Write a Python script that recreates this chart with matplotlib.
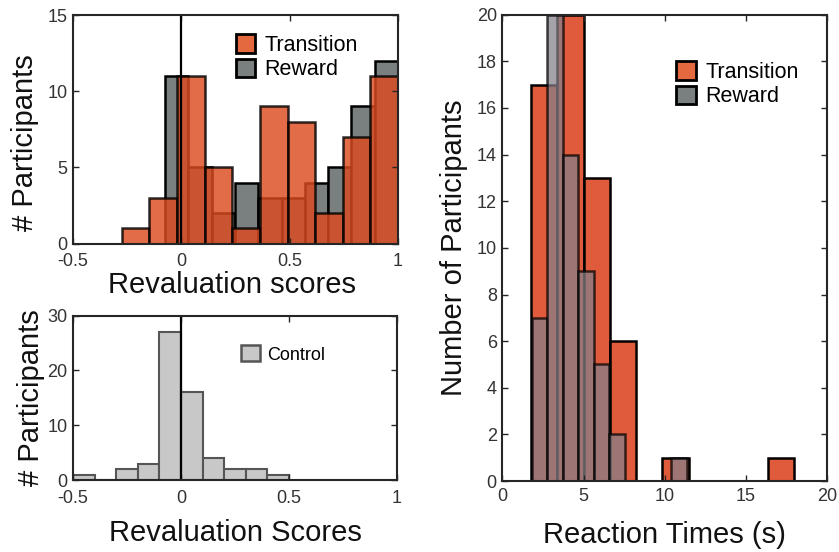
import numpy as np
import matplotlib
matplotlib.use("Agg")
import matplotlib.pyplot as plt
from matplotlib.patches import Patch

plt.rcParams['font.family'] = ['Liberation Sans', 'DejaVu Sans']

# revaluation scores, transition vs reward
trans_edges = np.linspace(-0.275, 1.0, 11)
trans_counts = [1, 3, 11, 5, 1, 9, 8, 2, 7, 11]
reward_edges = np.linspace(-0.075, 1.0, 11)
reward_counts = [11, 5, 2, 4, 3, 3, 4, 5, 9, 12]

# revaluation scores, control
control_edges = np.linspace(-0.5, 0.5, 11)
control_counts = [1, 0, 2, 3, 27, 16, 4, 2, 2, 1]

# reaction times (s)
rt_trans_edges = np.linspace(1.77, 17.94, 11)
rt_trans_counts = [17, 20, 13, 6, 0, 1, 0, 0, 0, 1]
rt_reward_edges = np.linspace(1.81, 11.35, 11)
rt_reward_counts = [7, 20, 14, 9, 5, 2, 0, 0, 0, 1]

orange = '#E05A3C'
orange_light = '#E4693F'
gray_dark = '#7A7F7F'
ink = '#262626'

fig = plt.figure(figsize=(8.39, 5.52), dpi=100)
ax1 = fig.add_axes([0.087, 0.5585, 0.3874, 0.4143])
ax2 = fig.add_axes([0.087, 0.1304, 0.3862, 0.2977])
ax3 = fig.add_axes([0.5987, 0.1286, 0.3874, 0.8447])


def hbar(ax, edges, counts, **kw):
    edges = np.asarray(edges)
    ax.bar(edges[:-1], counts, width=np.diff(edges), align='edge', **kw)


def style(ax):
    for s in ax.spines.values():
        s.set_color(ink)
        s.set_linewidth(1.5)
    ax.tick_params(direction='in', top=True, right=True, length=4, width=1,
                   labelsize=13, colors=ink, labelcolor='#333333')
    ax.tick_params(axis='x', pad=7)
    ax.tick_params(axis='y', pad=4)


# top left
hbar(ax1, reward_edges, reward_counts, color=gray_dark, edgecolor='k', linewidth=1.8)
hbar(ax1, trans_edges, trans_counts, color='#DC4A20', alpha=0.82, edgecolor='k', linewidth=1.8)
ax1.axvline(0, color='k', lw=1.6)
ax1.set_xlim(-0.5, 1)
ax1.set_ylim(0, 15)
ax1.set_xticks([-0.5, 0, 0.5, 1], ['-0.5', '0', '0.5', '1'])
ax1.set_yticks([0, 5, 10, 15])
style(ax1)
ax1.set_xlabel('Revaluation scores', fontsize=21, color='#111111')
ax1.set_ylabel('# Participants', fontsize=21, color='#111111')
ax1.xaxis.set_label_coords(0.49, -0.12)
ax1.yaxis.set_label_coords(-0.105, 0.44)
h1 = [Patch(facecolor=orange_light, edgecolor='k', lw=2),
      Patch(facecolor=gray_dark, edgecolor='k', lw=2)]
ax1.legend(h1, ['Transition', 'Reward'], loc='upper left', bbox_to_anchor=(0.5, 0.915),
           frameon=False, fontsize=15.5, handlelength=0.9, handleheight=0.95,
           handletextpad=0.45, labelspacing=0.12, borderpad=0, borderaxespad=0)

# bottom left
hbar(ax2, control_edges, control_counts, color='#C8C8C8', edgecolor='#555555', linewidth=1.5)
ax2.axvline(0, color='k', lw=1.6)
ax2.set_xlim(-0.5, 1)
ax2.set_ylim(0, 30)
ax2.set_xticks([-0.5, 0, 0.5, 1], ['-0.5', '0', '0.5', '1'])
ax2.set_yticks([0, 10, 20, 30])
style(ax2)
ax2.set_xlabel('Revaluation Scores', fontsize=21, color='#111111')
ax2.set_ylabel('# Participants', fontsize=21, color='#111111')
ax2.xaxis.set_label_coords(0.5, -0.235)
ax2.yaxis.set_label_coords(-0.085, 0.5)
h2 = [Patch(facecolor='#C8C8C8', edgecolor='#555555', lw=1.8)]
ax2.legend(h2, ['Control'], loc='upper left', bbox_to_anchor=(0.52, 0.82),
           frameon=False, fontsize=13, handlelength=1.0, handleheight=1.0,
           handletextpad=0.4, borderpad=0, borderaxespad=0)

# right: reaction times
hbar(ax3, rt_trans_edges, rt_trans_counts, color=orange, edgecolor='k', linewidth=1.8)
hbar(ax3, rt_reward_edges, rt_reward_counts, color='#86808B', alpha=0.73,
     edgecolor='k', linewidth=1.8)
ax3.set_xlim(0, 20)
ax3.set_ylim(0, 20)
ax3.set_xticks([0, 5, 10, 15, 20])
ax3.set_yticks(range(0, 21, 2))
style(ax3)
ax3.tick_params(axis='x', pad=5)
ax3.set_xlabel('Reaction Times (s)', fontsize=21, color='#111111')
ax3.set_ylabel('Number of Participants', fontsize=21, color='#111111')
ax3.xaxis.set_label_coords(0.5, -0.085)
ax3.yaxis.set_label_coords(-0.107, 0.5)
ax3.legend(h1, ['Transition', 'Reward'], loc='upper left', bbox_to_anchor=(0.535, 0.9),
           frameon=False, fontsize=15.5, handlelength=0.9, handleheight=0.95,
           handletextpad=0.45, labelspacing=0.12, borderpad=0, borderaxespad=0)

fig.savefig('out.png', dpi=100)
